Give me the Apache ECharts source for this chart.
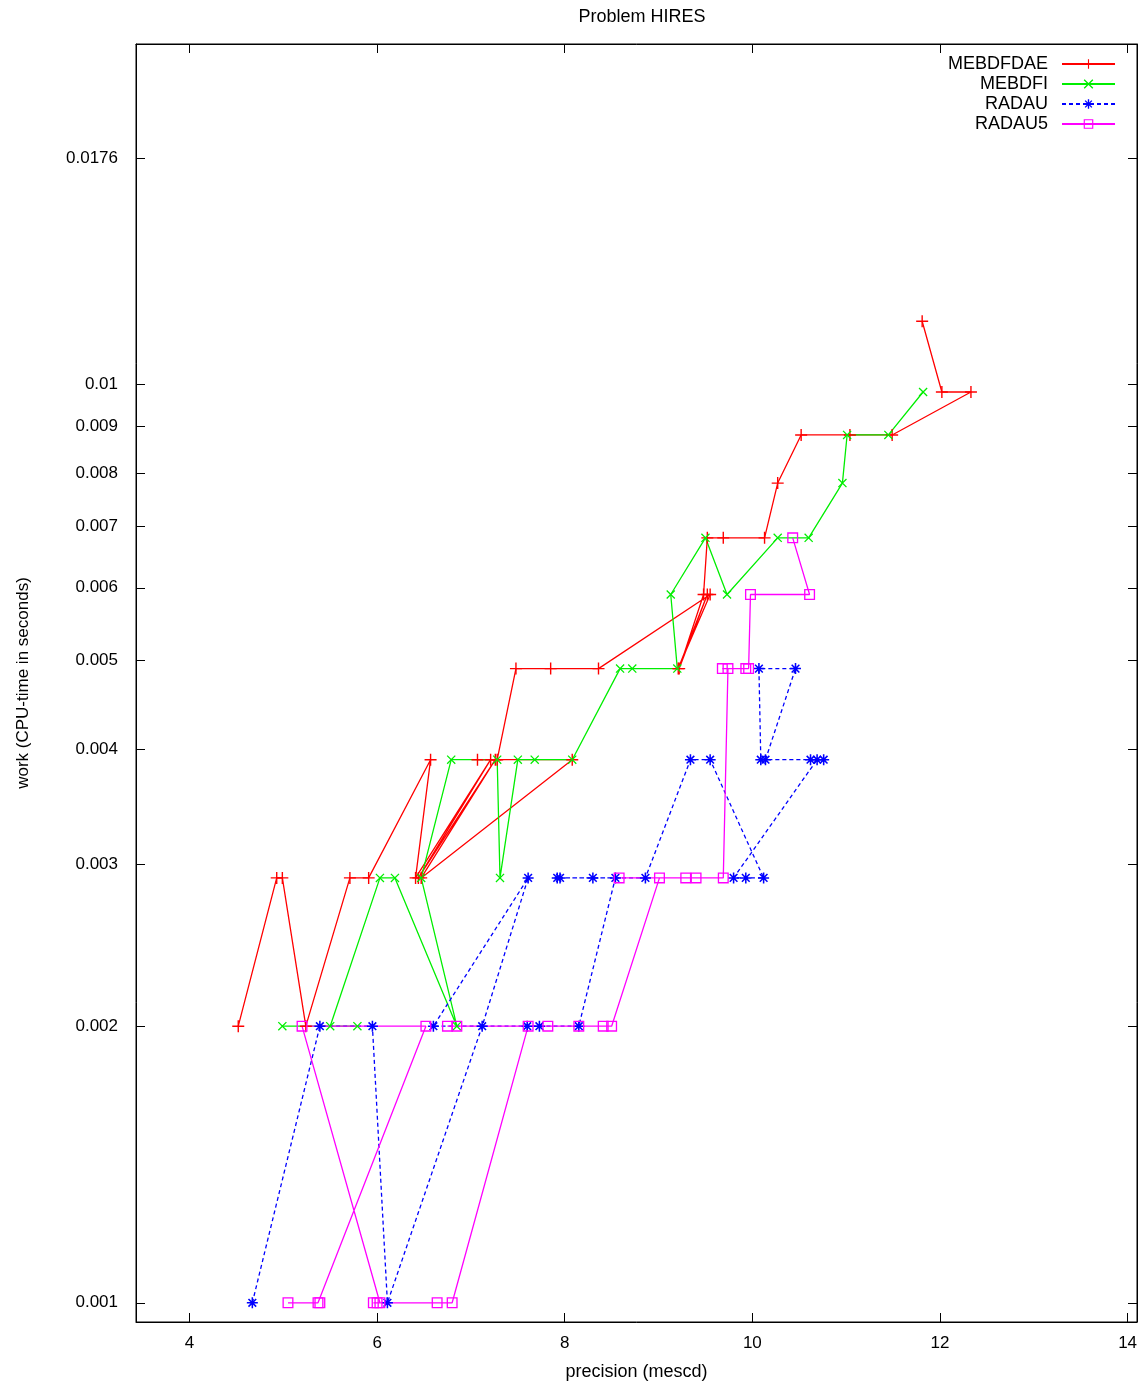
<!DOCTYPE html>
<html>
<head>
<meta charset="utf-8">
<script src="https://cdn.jsdelivr.net/npm/echarts@6/dist/echarts.min.js"></script>
<style>
  html, body { margin: 0; padding: 0; background: #fff; }
  #chart { width: 1144px; height: 1388px; }
</style>
</head>
<body>
<div id="chart"></div>
<script>
// values: precision (mescd) and work (CPU seconds)
var mebdfdaePrec = [4.52, 4.93, 4.99, 5.24, 5.71, 5.91, 6.57, 6.41, 7.21, 6.44, 7.26, 6.47, 8.08, 7.07, 7.28, 7.48, 7.85, 8.36,
  9.55, 9.21, 9.52, 9.22, 9.48, 9.52, 9.69, 10.13, 10.27, 10.52, 11.04, 11.49, 12.33, 12.02, 11.81];
var mebdfdaeWork = [0.002, 0.0029, 0.0029, 0.002, 0.0029, 0.0029, 0.0039, 0.0029, 0.0039, 0.0029, 0.0039, 0.0029, 0.0039, 0.0039, 0.0039, 0.0049, 0.0049, 0.0049,
  0.0059, 0.0049, 0.0059, 0.0049, 0.0059, 0.0068, 0.0068, 0.0068, 0.0078, 0.0088, 0.0088, 0.0088, 0.0098, 0.0098, 0.0117];

var mebdfiPrec = [4.99, 5.79, 5.50, 6.03, 6.19, 6.85, 6.47, 6.79, 7.28, 7.31, 7.50, 7.68, 8.08, 8.59, 8.72, 9.20, 9.13,
  9.50, 9.73, 10.27, 10.60, 10.96, 11.01, 11.45, 11.82];
var mebdfiWork = [0.002, 0.002, 0.002, 0.0029, 0.0029, 0.002, 0.0029, 0.0039, 0.0039, 0.0029, 0.0039, 0.0039, 0.0039, 0.0049, 0.0049, 0.0049, 0.0059,
  0.0068, 0.0059, 0.0068, 0.0068, 0.0078, 0.0088, 0.0088, 0.0098];

var radauPrec = [4.67, 5.39, 5.95, 6.11, 7.12, 7.61, 6.60, 7.60, 7.73, 8.15, 8.54, 8.30, 7.92, 7.95, 8.86, 9.34, 9.55,
  10.12, 9.93, 9.80, 10.69, 10.76, 10.09, 10.07, 10.46, 10.14, 10.62];
var radauWork = [0.001, 0.002, 0.002, 0.001, 0.002, 0.0029, 0.002, 0.002, 0.002, 0.002, 0.0029, 0.0029, 0.0029, 0.0029, 0.0029, 0.0039, 0.0039,
  0.0029, 0.0029, 0.0029, 0.0039, 0.0039, 0.0039, 0.0049, 0.0049, 0.0039, 0.0039];

var radau5Prec = [5.05, 5.37, 5.39, 6.52, 5.20, 6.03, 5.96, 6.00, 6.64, 6.80, 7.61, 6.75, 6.85, 7.82, 8.15, 8.41, 8.50,
  9.01, 8.58, 9.29, 9.40, 9.69, 9.74, 9.68, 9.93, 9.96, 9.98, 10.61, 10.43];
var radau5Work = [0.001, 0.001, 0.001, 0.002, 0.002, 0.001, 0.001, 0.001, 0.001, 0.001, 0.002, 0.002, 0.002, 0.002, 0.002, 0.002, 0.002,
  0.0029, 0.0029, 0.0029, 0.0029, 0.0029, 0.0049, 0.0049, 0.0049, 0.0049, 0.0059, 0.0059, 0.0068];

var precTicks = [4, 6, 8, 10, 12, 14];
var workTicks = [0.001, 0.002, 0.003, 0.004, 0.005, 0.006, 0.007, 0.008, 0.009, 0.01, 0.0176];

function zip(xs, ys) {
  return xs.map(function (x, i) { return [x, ys[i]]; });
}

var font = 'Liberation Sans';
var plusSym = 'path://M0,5.3H12V6.7H0Z M5.3,0H6.7V12H5.3Z';
var crossSym = 'path://M0,1L1,0L10,9L9,10Z M9,0L10,1L1,10L0,9Z';
var starSym = 'path://M0,4.3H10V5.7H0Z M4.3,0H5.7V10H4.3Z M1,2L2,1L9,8L8,9Z M8,1L9,2L2,9L1,8Z';
var boxSym = 'path://M0,0H10V10H0Z M1.2,1.2V8.8H8.8V1.2Z';

function mkSeries(name, data, color, sym, size, dash) {
  return {
    name: name,
    type: 'line',
    data: data,
    symbol: sym,
    symbolSize: size,
    showAllSymbol: true,
    itemStyle: { color: color },
    lineStyle: { color: color, width: 1.3, type: dash || 'solid' },
    emphasis: { disabled: true }
  };
}

var myChart = echarts.init(document.getElementById('chart'));
var option = {
  animation: false,
  backgroundColor: '#fff',
  textStyle: { fontFamily: font },
  title: {
    text: 'Problem HIRES',
    left: 637,
    textAlign: 'center',
    top: 3,
    textStyle: { fontFamily: font, fontSize: 18, fontWeight: 'normal', color: '#000' }
  },
  legend: {
    orient: 'vertical',
    right: 23,
    top: 50,
    align: 'right',
    itemWidth: 53,
    itemHeight: 12,
    itemGap: 2,
    textStyle: { fontFamily: font, fontSize: 18, color: '#000', padding: [0, 9, 0, 0] },
    data: ['MEBDFDAE', 'MEBDFI', 'RADAU', 'RADAU5']
  },
  grid: {
    left: 136, top: 44, right: 7, bottom: 66,
    show: true, borderColor: '#000', borderWidth: 1
  },
  xAxis: [{
    type: 'value',
    min: 3.43, max: 14.1,
    name: 'precision (mescd)',
    nameLocation: 'middle',
    nameGap: 41,
    nameTextStyle: { fontFamily: font, fontSize: 18, color: '#000' },
    axisLine: { show: true, lineStyle: { color: '#000' } },
    axisTick: { inside: true, length: 9, customValues: precTicks, lineStyle: { color: '#000' } },
    axisLabel: { customValues: precTicks, margin: 13, fontFamily: font, fontSize: 17, color: '#000' },
    splitLine: { show: false }
  }, {
    type: 'value',
    position: 'top',
    min: 3.43, max: 14.1,
    axisLine: { show: true, lineStyle: { color: '#000' } },
    axisTick: { inside: true, length: 9, customValues: precTicks, lineStyle: { color: '#000' } },
    axisLabel: { show: false },
    splitLine: { show: false }
  }],
  yAxis: [{
    type: 'log',
    logBase: 10,
    min: 0.000953, max: 0.02344,
    name: 'work (CPU-time in seconds)',
    nameLocation: 'middle',
    nameGap: 104,
    nameTextStyle: { fontFamily: font, fontSize: 17, color: '#000' },
    axisLine: { show: true, lineStyle: { color: '#000' } },
    axisTick: { inside: true, length: 9, customValues: workTicks, lineStyle: { color: '#000' } },
    axisLabel: {
      customValues: workTicks, margin: 18, fontFamily: font, fontSize: 17, color: '#000',
      formatter: function (v) { return String(+Number(v).toPrecision(3)); }
    },
    minorTick: { show: false },
    splitLine: { show: false }
  }, {
    type: 'log',
    logBase: 10,
    position: 'right',
    min: 0.000953, max: 0.02344,
    axisLine: { show: true, lineStyle: { color: '#000' } },
    axisTick: { inside: true, length: 9, customValues: workTicks, lineStyle: { color: '#000' } },
    axisLabel: { show: false },
    splitLine: { show: false }
  }],
  series: [
    mkSeries('MEBDFDAE', zip(mebdfdaePrec, mebdfdaeWork), '#ff0000', plusSym, 12),
    mkSeries('MEBDFI', zip(mebdfiPrec, mebdfiWork), '#00ee00', crossSym, 9),
    mkSeries('RADAU', zip(radauPrec, radauWork), '#0000ff', starSym, 11, [4, 3]),
    mkSeries('RADAU5', zip(radau5Prec, radau5Work), '#ff00ff', boxSym, 11)
  ]
};
myChart.setOption(option);
</script>
</body>
</html>
